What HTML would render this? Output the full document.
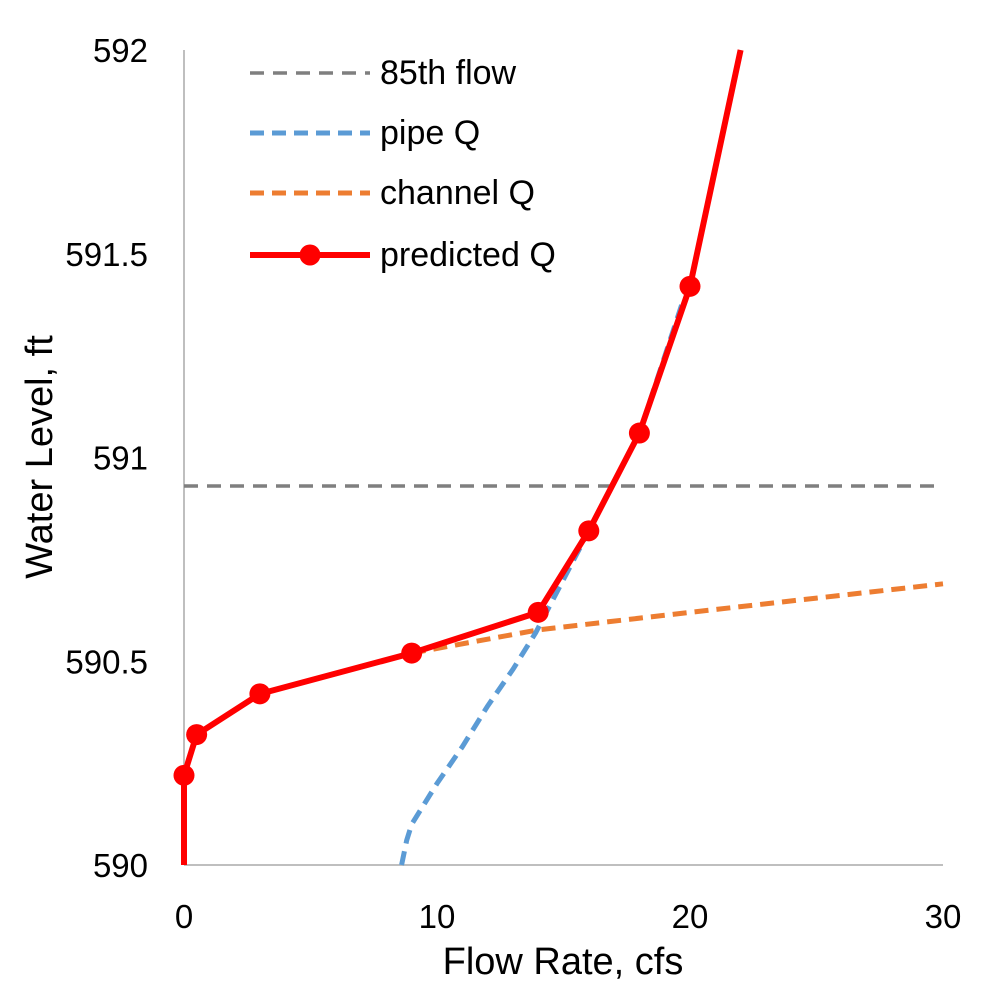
<!DOCTYPE html>
<html><head><meta charset="utf-8"><style>
body{margin:0;background:#fff}
svg text{font-family:"Liberation Sans",sans-serif;fill:#000}
</style></head><body>
<svg id="chart" width="990" height="990" xmlns="http://www.w3.org/2000/svg">
<g id="axes"></g>
<g id="series"></g>
<g id="legend"></g>
<text x="563" y="974" font-size="38" text-anchor="middle">Flow Rate, cfs</text>
<text transform="translate(52,457) rotate(-90)" font-size="38" text-anchor="middle">Water Level, ft</text>
</svg>
<script>
const xTicks=[0,10,20,30];
const yTicks=[590,590.5,591,591.5,592];
const yTickLabels=["590","590.5","591","591.5","592"];
const flow85=590.93;
const pipeX=[8.6,8.8,9.0,10.0,11.0,12.0,13.0,13.9,16,18,19.7];
const pipeY=[590,590.06,590.1,590.2,590.29,590.39,590.48,590.57,590.82,591.06,591.38];
const chanX=[9,14,20,25,30];
const chanY=[590.52,590.577,590.62,590.655,590.69];
const predX=[0,0.5,3,9,14,16,18,20];
const predY=[590.22,590.32,590.42,590.52,590.62,590.82,591.06,591.42];
const predLineX=[0,0,0.5,3,9,14,16,18,20,22];
const predLineY=[590,590.22,590.32,590.42,590.52,590.62,590.82,591.06,591.42,592];
const X0=184,X1=943,Y0=865,Y1=50;
const sx=v=>X0+(v-0)/(30-0)*(X1-X0);
const sy=v=>Y0-(v-590)/(592-590)*(Y0-Y1);
const NS="http://www.w3.org/2000/svg";
function mk(tag,attrs,parent){const e=document.createElementNS(NS,tag);for(const k in attrs)e.setAttribute(k,attrs[k]);parent.appendChild(e);return e;}
const axes=document.getElementById('axes'),series=document.getElementById('series'),legend=document.getElementById('legend');
let a=mk('line',{x1:X0,y1:Y1,x2:X0,y2:Y0,stroke:'#bfbfbf','stroke-width':2},axes);


a=mk('line',{x1:X0,y1:Y0,x2:X1,y2:Y0,stroke:'#bfbfbf','stroke-width':2},axes);


xTicks.forEach(v=>{const t=mk('text',{x:sx(v),y:Y0+63,'font-size':33,'text-anchor':'middle'},axes);t.textContent=v;

});
yTicks.forEach((v,i)=>{const t=mk('text',{x:148,y:sy(v)+12,'font-size':33,'text-anchor':'end'},axes);t.textContent=yTickLabels[i];

});
const pts=(xs,ys)=>xs.map((x,i)=>sx(x)+','+sy(ys[i])).join(' ');
let l=mk('line',{x1:X0,x2:X1,y1:sy(flow85),y2:sy(flow85),stroke:'#7f7f7f','stroke-width':3.5,'stroke-dasharray':'14,9'},series);


l=mk('polyline',{points:pts(chanX,chanY),fill:'none',stroke:'#ed7d31','stroke-width':5,'stroke-dasharray':'14,8'},series);


l=mk('polyline',{points:pts(pipeX,pipeY),fill:'none',stroke:'#5b9bd5','stroke-width':5,'stroke-dasharray':'14,8'},series);


l=mk('polyline',{points:pts(predLineX,predLineY),fill:'none',stroke:'#ff0000','stroke-width':6,'stroke-linejoin':'round'},series);


predX.forEach((x,i)=>{const c=mk('circle',{cx:sx(x),cy:sy(predY[i]),r:10.5,fill:'#ff0000'},series);

});
const leg=[['85th flow','#7f7f7f','14,9',3.5,false],['pipe Q','#5b9bd5','14,8',5,false],['channel Q','#ed7d31','14,8',5,false],['predicted Q','#ff0000','',6,true]];
const legY=[73,133,193,255];
leg.forEach((d,i)=>{const y=legY[i];
const ln=mk('line',{x1:250,x2:370,y1:y,y2:y,stroke:d[1],'stroke-width':d[3],'stroke-dasharray':d[2]},legend);


if(d[4]){const c=mk('circle',{cx:310,cy:y,r:10.5,fill:d[1]},legend);

}
const t=mk('text',{x:380,y:y+11,'font-size':34},legend);t.textContent=d[0];

});
</script>
</body></html>
